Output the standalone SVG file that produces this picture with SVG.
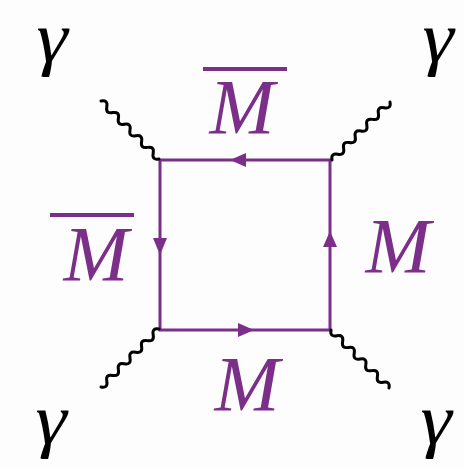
<svg xmlns="http://www.w3.org/2000/svg" width="464" height="467" viewBox="0 0 464 467">
<defs>
<style>
.bg{fill:#fdfdfd}
.fer{stroke:#7b2f88;stroke-width:3;fill:none}
.arr{fill:#7b2f88}
.ph{stroke:#000;stroke-width:3;fill:none;stroke-linecap:round}
.lbl{font-family:"Liberation Serif","DejaVu Serif",serif;font-style:italic;font-size:78px;fill:#7b2f88;text-anchor:middle}
.gam{font-family:"Liberation Serif","DejaVu Serif",serif;font-style:italic;font-size:72px;fill:#000;text-anchor:middle}
.bar{stroke:#7b2f88;stroke-width:4}
</style>
</defs>
<rect class="bg" x="0" y="0" width="464" height="467"/>
<g id="connectors">
<path class="fer" d="M160,160 H330 V330 H160 Z"/>
<polygon class="arr" points="230,160 246,153 246,167"/>
<polygon class="arr" points="160,255 153,238 167,238"/>
<polygon class="arr" points="254,330 238,323 238,337"/>
<polygon class="arr" points="330,231 323,247 337,247"/>
<path class="ph" transform="translate(101,101) rotate(45)" d="M0,0 q4.1,-6 8.2,0 t8.2,0 t8.2,0 t8.2,0 t8.2,0 t8.2,0 t8.2,0 t8.2,0 t8.2,0 t8.2,0"/>
<path class="ph" transform="translate(390,102) rotate(135)" d="M0,0 q4.1,-6 8.2,0 t8.2,0 t8.2,0 t8.2,0 t8.2,0 t8.2,0 t8.2,0 t8.2,0 t8.2,0 t8.2,0"/>
<path class="ph" transform="translate(101,387) rotate(-45)" d="M0,0 q4.1,6 8.2,0 t8.2,0 t8.2,0 t8.2,0 t8.2,0 t8.2,0 t8.2,0 t8.2,0 t8.2,0 t8.2,0"/>
<path class="ph" transform="translate(389,388) rotate(-135)" d="M0,0 q4.1,6 8.2,0 t8.2,0 t8.2,0 t8.2,0 t8.2,0 t8.2,0 t8.2,0 t8.2,0 t8.2,0 t8.2,0"/>
</g>
<g id="label-top"><line class="bar" x1="203" y1="69" x2="287" y2="69"/><text class="lbl" x="242" y="133">M</text></g>
<g id="label-left"><line class="bar" x1="50" y1="215" x2="134" y2="215"/><text class="lbl" x="96" y="280">M</text></g>
<g id="label-right"><text class="lbl" x="398" y="272">M</text></g>
<g id="label-bottom"><text class="lbl" x="247" y="410">M</text></g>
<g id="gamma-tl"><text class="gam" transform="translate(52,62) scale(1.1,1)">γ</text></g>
<g id="gamma-tr"><text class="gam" transform="translate(438,62) scale(1.1,1)">γ</text></g>
<g id="gamma-bl"><text class="gam" transform="translate(51,444) scale(1.1,1)">γ</text></g>
<g id="gamma-br"><text class="gam" transform="translate(436,444) scale(1.1,1)">γ</text></g>
</svg>
